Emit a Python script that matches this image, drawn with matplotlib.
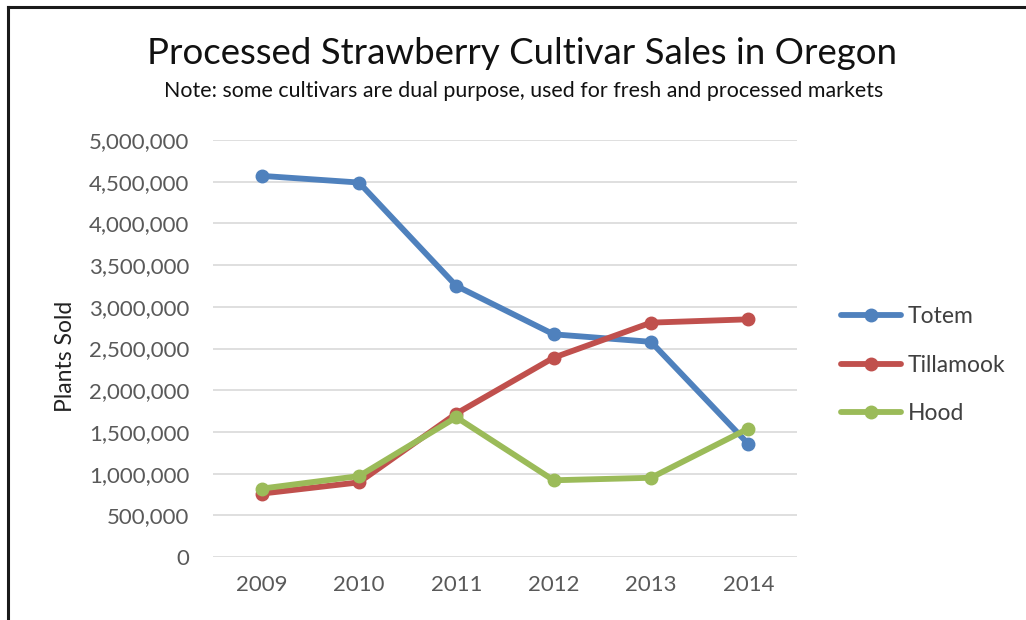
import matplotlib
matplotlib.use("Agg")
import matplotlib.pyplot as plt
from matplotlib.lines import Line2D
from matplotlib.ticker import FuncFormatter, MultipleLocator

years = ["2009", "2010", "2011", "2012", "2013", "2014"]
totem = [4570000, 4490000, 3250000, 2670000, 2580000, 1355000]
tillamook = [760000, 895000, 1720000, 2390000, 2810000, 2850000]
hood = [820000, 970000, 1675000, 920000, 950000, 1540000]
series_names = ["Totem", "Tillamook", "Hood"]
colors = ["#4F81BD", "#C0504D", "#9BBB59"]

plt.rcParams['font.family'] = ['Lato', 'DejaVu Sans']

W, H = 1026, 620
fig = plt.figure(figsize=(W / 100, H / 100), dpi=100)
fig.patch.set_facecolor("white")

ax = fig.add_axes([213 / W, 1 - 557 / H, (797 - 213) / W, (557 - 140) / H])
x = list(range(len(years)))
for vals, name, c in zip([totem, tillamook, hood], series_names, colors):
    ax.plot(x, vals, color=c, lw=4.2, marker='o', ms=9, label=name,
            solid_capstyle='round', solid_joinstyle='round')

ax.set_xlim(-0.5, len(years) - 0.5)
ax.set_ylim(0, 5000000)
ax.yaxis.set_major_locator(MultipleLocator(500000))
ax.yaxis.set_major_formatter(FuncFormatter(lambda v, p: f"{int(v):,}"))
ax.set_xticks(x)
ax.set_xticklabels(years)
ax.grid(axis='y', color='#d9d9d9', lw=1.2)
ax.set_axisbelow(True)
for s in ax.spines.values():
    s.set_visible(False)
ax.tick_params(axis='both', length=0, labelsize=16, labelcolor='#595959')
ax.tick_params(axis='y', pad=17)
ax.tick_params(axis='x', pad=13)

ax.set_ylabel("Plants Sold", fontsize=16.5, color='#222222')
ax.yaxis.set_label_coords(-0.235, 0.48)

fig.text(522 / W, 1 - 53 / H, "Processed Strawberry Cultivar Sales in Oregon",
         ha='center', va='center', fontsize=26.4, color='#111111')
fig.text(524 / W, 1 - 91 / H,
         "Note: some cultivars are dual purpose, used for fresh and processed markets",
         ha='center', va='center', fontsize=15.4, color='#111111')

leg = ax.legend(loc='center left', bbox_to_anchor=(1.04, 0.46), frameon=False,
                fontsize=16.5, handlelength=2.6, labelspacing=1.2, handletextpad=0.3,
                labelcolor='#404040')

# frame (left and top lines)
fig.add_artist(Line2D([8 / W, 8 / W], [0, 1 - 7 / H], transform=fig.transFigure,
                      color='#1a1a1a', lw=2.2))
fig.add_artist(Line2D([8 / W, 1], [1 - 7 / H, 1 - 7 / H], transform=fig.transFigure,
                      color='#1a1a1a', lw=2.2))

fig.savefig("out.png", dpi=100)
